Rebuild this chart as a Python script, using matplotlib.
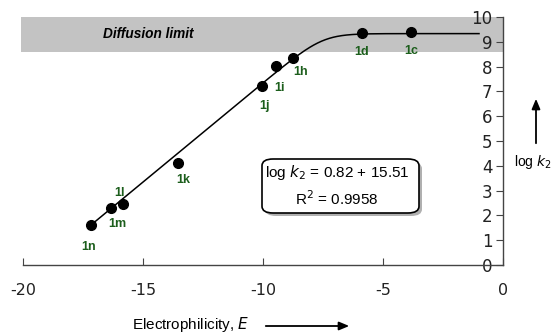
import numpy as np
import matplotlib
matplotlib.use("Agg")
import matplotlib.pyplot as plt
from matplotlib.patches import FancyBboxPatch, Rectangle

# data
labels = ["1n", "1m", "1l", "1k", "1j", "1i", "1h", "1d", "1c"]
E_vals = [-17.17, -16.33, -15.83, -13.54, -10.04, -9.46, -8.75, -5.88, -3.83]
logk_vals = [1.61, 2.30, 2.46, 4.13, 7.22, 8.02, 8.35, 9.35, 9.39]
label_dx = [-0.1, 0.25, -0.15, 0.2, 0.1, 0.15, 0.3, 0.0, 0.0]
label_dy = [-0.9, -0.65, 0.45, -0.7, -0.8, -0.9, -0.55, -0.75, -0.75]
fit_slope = 0.80
fit_x0 = -17.17
fit_y0 = 1.61
plateau = 9.33
line_x_end = -1.0
diffusion_band = (8.6, 10.0)
xticks = [-20, -15, -10, -5, 0]
yticks = list(range(0, 11))

green = "#1c5e1c"
sans = "Liberation Sans"

fig = plt.figure(figsize=(5.55, 3.35), dpi=100)
ax = fig.add_axes([23 / 555, 1 - 265 / 335, 480 / 555, 248 / 335])
ax.set_xlim(-20, 0)
ax.set_ylim(0, 10)
ax.patch.set_alpha(0)

# diffusion band
ax.add_patch(Rectangle((-20.1, diffusion_band[0]), 20.1, diffusion_band[1] - diffusion_band[0],
                       facecolor="#c3c3c3", edgecolor="none", zorder=0, clip_on=False))
ax.text(-14.8, 9.33, "Diffusion limit", fontsize=9.8, fontweight="bold", fontstyle="italic",
        family=sans, ha="center", va="center")

# correlation line with smooth plateau
xs = np.linspace(fit_x0, line_x_end, 400)
lin = fit_y0 + fit_slope * (xs - fit_x0)
k = 2.4
ys = -np.log(np.exp(-k * lin) + np.exp(-k * plateau)) / k
ax.plot(xs, ys, color="black", lw=1.1, zorder=2)

ax.plot(E_vals, logk_vals, "o", color="black", ms=7, zorder=3)
for lab, x, y, dx, dy in zip(labels, E_vals, logk_vals, label_dx, label_dy):
    ax.text(x + dx, y + dy, lab, color=green, fontsize=9, fontweight="bold",
            family=sans, ha="center", va="center", zorder=4)

# axes styling
for s in ["top", "right"]:
    ax.spines[s].set_visible(False)
ax.spines["left"].set_position(("data", 0))
ax.spines["bottom"].set_position(("data", 0))
for s in ["left", "bottom"]:
    ax.spines[s].set_color("#444444")
    ax.spines[s].set_linewidth(1.0)
ax.set_xticks(xticks)
ax.set_xticklabels([str(t) for t in xticks])
ax.set_yticks(yticks)
ax.set_yticklabels([str(t) for t in yticks])
ax.tick_params(axis="x", direction="in", length=5, pad=13, labelsize=11.5, color="#444444")
ax.tick_params(axis="y", direction="out", length=5, pad=2.5, labelsize=12, color="#444444")
for t in ax.get_xticklabels() + ax.get_yticklabels():
    t.set_family("DejaVu Sans")
    t.set_color("#222222")

# equation box
shadow = FancyBboxPatch((265 / 555, 1 - 216 / 335), 157 / 555, 54 / 335,
                        boxstyle="round,pad=0,rounding_size=0.02", transform=fig.transFigure,
                        facecolor="#b0b0b0", edgecolor="none", zorder=5)
fig.patches.append(shadow)
box = FancyBboxPatch((262 / 555, 1 - 213 / 335), 157 / 555, 54 / 335,
                     boxstyle="round,pad=0,rounding_size=0.02", transform=fig.transFigure,
                     facecolor="white", edgecolor="black", lw=1.2, zorder=6)
fig.patches.append(box)
fig.text(337 / 555, 1 - 173 / 335, r"log $\mathit{k}_2$ = 0.82 + 15.51", fontsize=11, family=sans,
         ha="center", va="center", zorder=7)
fig.text(337 / 555, 1 - 199 / 335, r"R$^2$ = 0.9958", fontsize=11, family=sans,
         ha="center", va="center", zorder=7)

# axis labels with arrows
fig.text(132 / 555, 1 - 325 / 335, r"Electrophilicity, $\mathit{E}$", fontsize=11, family=sans,
         ha="left", va="center")
fig.add_artist(matplotlib.patches.FancyArrowPatch((263 / 555, 1 - 326 / 335), (352 / 555, 1 - 326 / 335),
               transform=fig.transFigure, arrowstyle="-|>,head_length=6,head_width=2.5",
               color="black", lw=1.3))
fig.add_artist(matplotlib.patches.FancyArrowPatch((536 / 555, 1 - 146 / 335), (536 / 555, 1 - 96 / 335),
               transform=fig.transFigure, arrowstyle="-|>,head_length=6,head_width=2.5",
               color="black", lw=1.3))
fig.text(514 / 555, 1 - 162 / 335, r"log $\mathit{k}_2$", fontsize=10, family=sans,
         ha="left", va="center")

fig.savefig("out.png", dpi=100)
